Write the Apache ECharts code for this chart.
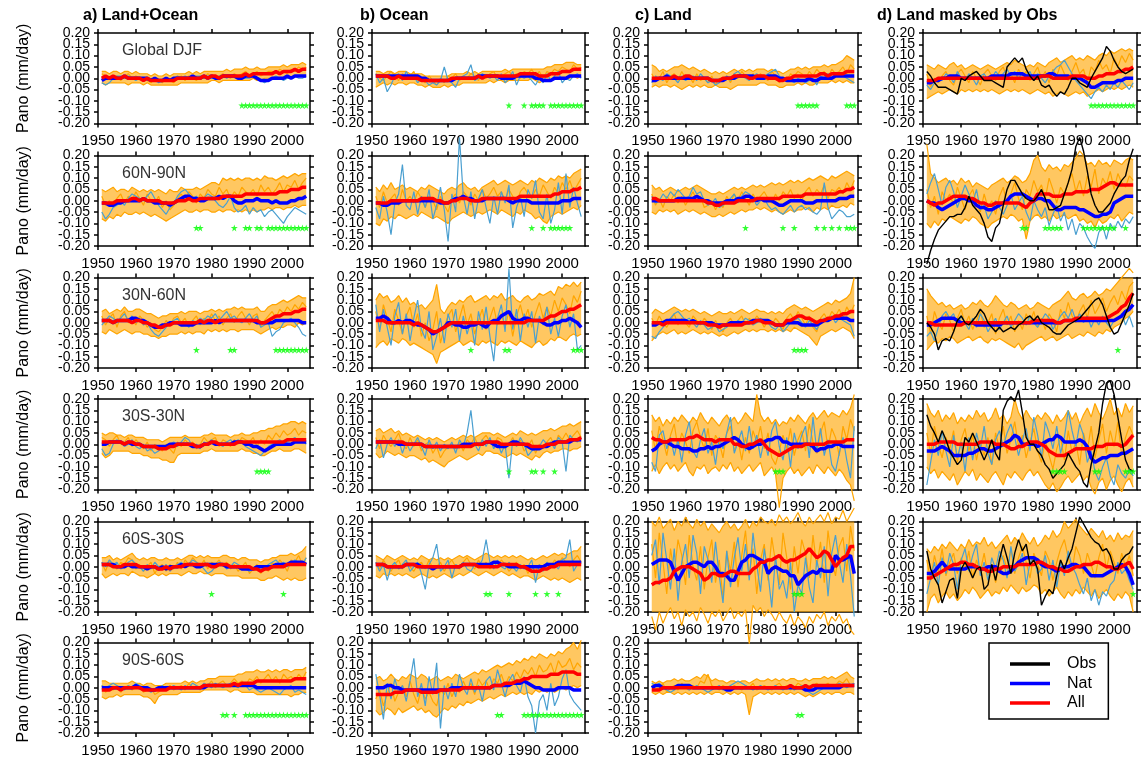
<!DOCTYPE html>
<html><head><meta charset="utf-8">
<script src="https://cdn.jsdelivr.net/npm/echarts@6/dist/echarts.min.js"></script>
<style>html,body{margin:0;padding:0;background:#fff}#c{width:1142px;height:764px}</style>
</head><body><div id="c"></div>
<script>
// Values in units of 0.01 mm/day, years 1951..2005
const YEAR_FIRST = 1951, YEAR_LAST = 2005;
const X_TICKS = [1950, 1960, 1970, 1980, 1990, 2000];
const Y_TICKS = [-0.2, -0.15, -0.1, -0.05, 0, 0.05, 0.1, 0.15, 0.2];
const Y_LABELS_A = [-0.2, -0.1, 0, 0.1, 0.2];
const Y_LABELS_B = [-0.15, -0.05, 0.05, 0.15];
const COL_TITLES = ['a) Land+Ocean', 'b) Ocean', 'c) Land', 'd) Land masked by Obs'];
const REGIONS = ['Global DJF', '60N-90N', '30N-60N', '30S-30N', '60S-30S', '90S-60S'];
const STAR_Y = -0.12;

// ---- a) Land+Ocean ----
const a1_all=[0,1,0,1,0, 0,1,0,0,0, 0,-1,0,-1,-1, -1,-1,-1,-1,-1, 0,0,0,0,0, 0,0,1,0,1, 1,0,1,1,1, 1,1,1,2,1, 2,2,2,2,2, 2,3,2,3,3, 3,4,3,4,4];
const a1_nat=[-1,0,0,0,0, 0,1,0,0,0, 0,0,0,-1,0, -1,-1,0,-1,0, 0,0,0,0,1, 0,0,1,0,1, 0,0,1,1,1, 1,0,0,1,1, 1,0,-1,-1,-1, 0,0,0,0,1, 0,1,1,1,1];
const a1_hi=[3,3,2,3,3, 2,3,3,2,3, 2,2,2,1,2, 1,1,2,1,2, 2,2,2,3,2, 3,2,3,3,3, 3,3,3,4,3, 4,4,4,5,4, 4,5,4,4,5, 5,5,5,6,5, 6,6,6,7,6];
const a1_lo=[-2,-3,-2,-2,-2, -2,-2,-3,-2,-2, -2,-3,-2,-3,-3, -3,-3,-3,-3,-3, -3,-2,-2,-2,-2, -2,-2,-2,-2,-1, -1,-2,-1,-1,-1, -1,-1,-1,-1,-1, 0,-1,-1,0,0, 0,0,0,0,0, 0,1,1,1,1];
const a1_o1=[2,1,0,1,1, -1,1,2,0,1, 0,0,-1,-2,0, -1,-2,0,-1,-2, 0,1,-1,1,0, -1,1,0,2,1, 0,1,2,1,0, 2,1,2,3,1, 2,3,1,2,3, 3,2,4,3,2, 4,3,5,4,5];
const a1_b1=[-2,-3,-2,0,1, 1,0,1,0,-1, 0,0,-1,0,-1, -2,-1,0,-1,0, 1,0,1,0,0, 1,1,0,1,0, 0,1,1,0,1, 1,0,1,0,0, 1,0,-1,-2,-1, 0,1,0,-1,0, 0,1,0,0,1];
const a1_star=[1988,1989,1990,1991,1992,1993,1994,1995,1996,1997,1998,1999,2000,2001,2002,2003,2004,2005];

const a2_all=[-1,-1,-1,-1,0, 0,0,0,1,1, 0,1,0,0,0, 0,-1,-1,-1,-1, 0,0,0,1,0, 0,1,1,1,1, 1,1,2,2,2, 2,2,2,3,3, 3,3,3,3,3, 3,3,4,4,4, 5,5,5,6,6];
const a2_nat=[-1,-1,-2,-2,-1, -1,0,0,0,0, 0,1,0,0,-1, -1,-1,-1,-2,-1, 0,1,2,2,1, 1,0,0,1,1, 1,2,1,2,2, 0,-1,-1,0,0, 0,1,0,0,0, -1,0,-1,-1,-1, 0,0,1,1,2];
const a2_hi=[5,4,5,6,4, 5,5,4,6,5, 4,5,4,5,4, 5,4,3,5,4, 4,6,5,5,5, 6,5,6,7,8, 8,7,10,9,10, 9,10,9,10,10, 9,10,9,11,10, 10,9,10,11,10, 11,12,11,12,12];
const a2_lo=[-8,-9,-7,-8,-6, -7,-5,-6,-6,-5, -6,-5,-6,-7,-6, -7,-8,-9,-8,-7, -6,-5,-4,-5,-5, -4,-5,-4,-4,-5, -5,-4,-5,-4,-4, -5,-4,-5,-4,-5, -4,-5,-4,-4,-3, -4,-3,-3,-4,-3, -3,-2,-3,-2,-2];
const a2_o1=[2,-2,0,-3,1, 3,-1,2,0,4, 1,-2,3,0,-1, 2,-3,0,-4,-2, 1,3,0,4,2, -1,3,1,5,3, 2,6,3,5,1, 4,2,6,4,3, 5,2,7,4,6, 3,5,8,4,7, 6,9,5,8,10];
const a2_b1=[-5,-8,-6,-3,-2, 0,-2,1,3,2, 1,0,2,4,1, -2,-4,-6,-3,-1, 2,4,5,3,1, 2,0,1,3,2, 0,-2,-3,-1,2, -3,-5,-4,-2,-6, -3,-5,-4,-7,-5, -4,-6,-8,-10,-7, -5,-3,-4,-5,-6];
const a2_star=[1976,1977,1986,1989,1990,1992,1993,1995,1996,1997,1998,1999,2000,2001,2002,2003,2004,2005];

const a3_all=[1,1,1,0,1, 1,1,1,0,1, 1,0,0,-1,-1, -2,-2,-1,-1,0, 0,0,0,0,0, 0,1,0,1,1, 0,1,1,1,1, 1,1,1,1,1, 1,1,0,0,1, 2,3,3,4,4, 4,5,5,6,6];
const a3_nat=[1,1,1,0,1, 1,1,1,2,2, 1,1,0,-1,-2, -2,-1,-1,0,0, 0,-1,-1,-1,-1, 0,0,0,0,0, 1,0,1,1,1, 1,1,1,1,1, 1,0,0,0,0, 0,1,1,1,1, 1,1,1,0,0];
const a3_hi=[5,6,4,5,6, 5,7,5,5,6, 6,5,4,4,3, 2,3,3,4,4, 4,5,4,5,5, 5,4,5,5,6, 5,6,5,6,6, 7,6,7,6,6, 6,7,5,5,7, 8,8,9,10,9, 10,11,12,11,11];
const a3_lo=[-4,-5,-3,-4,-5, -4,-3,-4,-5,-4, -4,-5,-5,-6,-6, -7,-6,-6,-5,-5, -5,-4,-5,-4,-5, -4,-4,-5,-3,-4, -3,-4,-3,-4,-3, -3,-4,-3,-3,-3, -3,-4,-5,-4,-3, -2,-3,-2,-2,-1, -1,-2,0,-1,0];
const a3_o1=[3,-1,2,4,-2, 3,5,0,2,-1, 3,1,-2,0,-3, -4,-2,1,-1,2, 3,0,2,-2,1, 3,-1,2,0,4, 1,3,-1,2,4, 0,3,5,2,-1, 3,4,-2,1,3, 5,2,6,4,7, 5,8,6,9,7];
const a3_b1=[-1,1,3,2,0, 2,4,1,3,0, 2,-1,0,-3,-5, -6,-4,-2,0,1, 2,-1,0,-2,1, 0,2,1,3,2, 4,1,3,5,2, 3,1,0,2,4, 1,3,-2,-1,0, -6,-4,-3,0,1, 2,0,-2,-5,-6];
const a3_star=[1976,1985,1986,1997,1998,1999,2000,2001,2002,2003,2004,2005];

const a4_all=[1,1,1,1,1, 1,0,1,1,0, 0,-1,-1,-1,-1, -2,-2,-2,-1,-1, 0,0,0,0,0, -1,-1,0,0,1, 1,0,0,0,0, 0,1,1,1,1, 1,1,1,1,1, 1,1,1,1,2, 2,2,2,2,2];
const a4_nat=[0,0,1,1,1, 1,0,1,0,0, 0,-1,-1,-1,-1, -1,-1,-1,0,0, 0,0,0,0,-1, -1,-1,0,0,1, 0,0,0,0,0, 1,1,1,0,0, -1,-1,-2,-3,-2, -1,0,0,0,0, 0,1,1,1,1];
const a4_hi=[5,4,5,5,4, 4,3,4,4,3, 3,3,2,2,2, 2,1,2,3,3, 3,3,4,3,3, 3,3,4,4,5, 4,4,4,4,3, 4,4,5,4,4, 5,5,6,6,7, 7,8,8,9,9, 10,10,9,10,9];
const a4_lo=[-4,-6,-5,-3,-3, -3,-3,-3,-4,-4, -4,-5,-5,-6,-6, -6,-7,-7,-8,-8, -5,-4,-4,-4,-4, -4,-4,-3,-3,-2, -3,-3,-3,-3,-3, -3,-3,-2,-3,-3, -4,-4,-5,-5,-4, -3,-3,-2,-3,-3, -3,-2,-2,-3,-4];
const a4_o1=[3,2,-1,2,4, 0,1,3,-1,2, 0,-2,1,-3,0, -1,-3,0,-2,-4, 1,-1,2,0,1, -2,0,3,1,2, 3,-1,2,1,-1, 2,0,3,2,1, 3,-1,2,0,4, 2,5,3,6,4, 5,7,4,6,5];
const a4_b1=[-2,-5,-4,0,2, 1,-1,0,2,-1, -2,0,-3,-2,-4, -3,-1,-2,0,1, -1,1,3,2,-1, 0,-2,1,0,2, 1,0,-1,1,2, 0,2,1,-1,-2, -3,-4,-5,-3,-1, 0,1,2,0,1, 2,3,1,2,0];
const a4_star=[1992,1993,1994,1995];

const a5_all=[1,1,1,0,0, 0,1,1,1,1, 0,0,0,0,0, -1,-1,0,-1,0, 0,0,1,1,1, 1,1,1,1,0, 0,1,1,1,0, 0,0,0,0,0, -1,-1,-2,-1,-1, 0,0,0,0,1, 1,1,1,1,1];
const a5_nat=[1,1,1,1,0, 0,0,1,0,0, 0,0,-1,0,0, -1,0,-1,0,0, 0,1,0,1,1, 0,0,1,1,1, 1,1,1,0,0, 0,0,-1,-1,-1, -1,0,0,0,0, 0,1,1,1,1, 2,2,2,2,1];
const a5_hi=[4,4,5,3,4, 3,4,5,6,4, 3,4,3,4,4, 3,3,4,3,3, 4,3,4,5,5, 4,5,4,5,4, 4,4,5,5,4, 4,3,4,4,3, 3,3,2,3,3, 4,4,5,5,5, 6,5,6,7,9];
const a5_lo=[-3,-5,-4,-3,-4, -3,-3,-4,-2,-3, -4,-4,-5,-4,-3, -4,-3,-4,-3,-3, -3,-4,-3,-2,-3, -3,-2,-3,-3,-4, -3,-3,-3,-4,-4, -4,-4,-5,-5,-5, -5,-5,-6,-6,-5, -5,-4,-5,-6,-5, -6,-5,-6,-6,-5];
const a5_o1=[2,-2,3,0,-1, 2,1,4,3,-1, 1,-2,0,2,-3, 0,1,-2,1,-1, 2,-1,3,1,4, 2,0,3,-1,2, 1,3,0,2,-1, 1,-2,0,2,-3, -1,1,-3,0,-2, 2,0,3,1,-2, 3,2,5,1,4];
const a5_b1=[2,0,3,1,2, -1,0,2,3,1, 0,-2,1,-1,2, 0,-1,1,-2,0, 1,2,0,1,3, 2,1,-1,-3,-2, 0,2,1,-1,0, 2,1,0,-1,-2, -1,0,-2,-1,1, 2,3,1,2,0, 1,3,2,1,4];
const a5_star=[1980,1999];

const a6_all=[-1,-1,-1,0,0, -1,0,0,0,0, 0,-1,-1,-1,-1, -1,-1,-1,0,0, 0,0,0,0,0, 0,0,1,1,1, 1,1,1,1,1, 2,1,2,2,2, 2,3,3,3,3, 3,3,3,3,3, 3,4,4,4,4];
const a6_nat=[0,0,0,0,0, 0,0,0,0,1, 0,0,0,-1,-1, 0,0,0,0,0, 0,0,0,0,0, 0,0,0,1,1, 1,1,1,1,1, 1,1,1,1,1, 1,0,0,0,0, 0,0,0,0,0, 0,0,0,0,0];
const a6_hi=[3,3,2,2,2, 2,2,2,3,2, 2,1,2,2,1, 1,1,2,2,2, 2,2,3,2,3, 2,3,3,4,4, 4,5,5,5,5, 5,6,6,7,7, 7,8,7,7,8, 7,8,7,8,8, 7,8,8,8,9];
const a6_lo=[-4,-5,-4,-4,-3, -4,-3,-3,-3,-3, -3,-4,-4,-5,-7, -4,-3,-3,-3,-3, -3,-2,-2,-2,-2, -2,-2,-1,-1,-1, -1,-1,-1,-1,-2, -1,-1,-2,-2,-2, -2,-3,-3,-3,-3, -3,-3,-3,-3,-3, -4,-3,-3,-2,-2];
const a6_o1=[1,-2,0,-1,1, -2,0,1,-1,0, 1,-2,-1,0,-3, -2,0,-1,1,-1, 0,1,-1,2,0, 1,-1,2,1,3, 0,2,3,1,2, 4,2,3,1,4, 3,5,2,4,6, 3,5,2,6,4, 5,3,6,4,7];
const a6_b1=[1,0,1,2,1, 0,-1,1,0,2, 1,0,-1,-2,-1, 0,1,-1,0,1, 0,-1,1,0,2, 1,0,2,1,0, 2,1,0,1,2, 1,0,2,1,-1, 0,-1,-2,-1,0, -1,-2,-3,-1,0, 1,-2,-1,-2,-3];
const a6_star=[1983,1984,1986,1989,1990,1991,1992,1993,1994,1995,1996,1997,1998,1999,2000,2001,2002,2003,2004,2005];

// ---- b) Ocean ----
const b1_all=[1,1,1,1,0, 0,1,0,0,0, 0,0,-1,-1,-1, -1,-1,-1,-1,-1, 0,0,0,0,0, 0,0,1,0,1, 1,1,1,1,1, 1,1,1,2,2, 2,2,2,1,1, 1,2,2,2,3, 3,3,4,4,4];
const b1_nat=[1,1,1,1,1, 1,1,1,1,1, 1,1,0,0,-1, -1,-1,-1,-1,-1, -1,0,0,0,0, 0,0,1,1,1, 1,1,1,0,0, 0,0,1,1,1, 1,1,0,0,-1, -1,-1,0,0,0, 0,1,1,1,1];
const b1_hi=[3,3,2,3,3, 2,3,3,3,2, 2,2,2,1,1, 1,1,1,1,1, 2,2,2,2,3, 2,3,2,3,3, 3,3,3,3,4, 3,4,4,4,4, 4,4,4,4,4, 5,5,6,6,6, 7,7,7,6,6];
const b1_lo=[-4,-3,-2,-3,-2, -3,-2,-2,-3,-2, -2,-3,-3,-4,-3, -4,-4,-4,-3,-4, -3,-3,-3,-2,-2, -2,-2,-2,-2,-2, -1,-2,-1,-1,-2, -1,-1,-1,-1,-1, -1,0,-1,-2,-1, -1,-1,0,0,0, 0,0,1,0,1];
const b1_o1=[2,0,-1,1,3, 1,-1,2,0,1, 3,-1,0,-2,1, -1,-3,0,-2,1, 0,2,-1,1,0, 2,1,-1,2,0, 2,3,0,1,2, 3,1,2,0,3, 2,4,1,3,0, 3,2,4,3,5, 4,3,6,4,5];
const b1_b1=[2,-2,0,-6,-3, 1,2,-1,3,0, 1,-2,0,-1,-3, -2,-3,-1,5,-1, -2,-4,0,1,2, 6,-1,0,2,1, 0,1,-1,2,-2, 0,3,-3,1,0, 1,-1,-3,0,-2, 2,-1,1,3,-2, 0,-1,1,2,0];
const b1_star=[1986,1990,1992,1993,1994,1995,1997,1998,1999,2000,2001,2002,2003,2004,2005];

const b2_all=[-1,-1,-1,-1,0, 0,0,0,0,0, 0,0,1,1,1, 1,0,0,-1,-1, 0,0,1,1,1, 0,0,0,1,1, 1,1,1,1,1, 1,1,1,2,2, 2,2,2,2,2, 2,2,3,3,4, 4,4,5,5,6];
const b2_nat=[-1,-1,-2,-2,-1, -1,-1,0,0,0, 0,0,0,0,0, 0,0,-1,-1,-1, 0,1,1,2,1, 1,0,0,0,1, 1,1,1,1,1, 0,-1,0,0,0, 0,-1,-1,-1,-1, -1,-1,-1,-1,0, 0,0,1,1,1];
const b2_hi=[6,4,7,5,8, 5,6,7,5,6, 5,4,6,5,7, 6,5,4,3,5, 6,5,7,8,6, 5,6,4,6,7, 8,9,7,8,9, 8,7,8,9,8, 7,9,8,10,9, 8,10,9,11,10, 11,10,12,13,14];
const b2_lo=[-10,-11,-8,-9,-7, -8,-6,-7,-8,-7, -6,-7,-5,-6,-7, -8,-7,-8,-9,-10, -8,-7,-6,-5,-6, -7,-6,-5,-6,-5, -4,-5,-6,-4,-5, -6,-7,-5,-6,-4, -5,-6,-8,-7,-9, -10,-7,-6,-5,-6, -5,-4,-3,-4,-2];
const b2_o1=[2,-3,4,-1,1, 3,-2,5,0,2, -1,4,1,-3,2, 0,-4,2,-2,-5, 1,3,-1,4,2, -2,3,0,5,1, 3,6,2,4,0, 5,2,-1,4,6, 3,1,5,2,7, 4,1,6,3,8, 5,9,4,7,10];
const b2_b1=[-3,-8,2,-5,-15, -1,3,16,-2,-4, 4,-6,2,-3,5, -8,-2,6,-4,-18, 3,-5,28,2,-6, 4,-8,1,5,-3, -10,2,-6,4,-1, 7,-12,-3,2,-7, 5,1,9,-5,-8, 3,-10,-4,8,-6, 12,-3,6,-1,-7];
const b2_star=[1992,1995,1997,1998,1999,2000,2001,2002];

const b3_all=[1,1,1,0,0, 0,0,0,0,0, -1,0,-1,-2,-3, -4,-4,-3,-2,-1, 0,0,0,0,0, 0,0,0,0,0, 0,0,0,0,0, 0,0,0,0,0, 1,1,1,1,1, 2,3,3,4,5, 5,6,6,7,8];
const b3_nat=[2,2,3,2,0, 0,1,0,1,1, 0,-1,-1,-2,-3, -5,-4,-3,-2,0, 0,-1,-1,-2,-2, -1,-1,0,-1,-2, 0,1,1,3,4, 5,2,1,1,2, 2,1,1,1,0, -1,-1,0,0,1, 1,2,1,0,-2];
const b3_hi=[10,13,11,12,9, 10,12,9,11,8, 9,7,8,6,8, 10,17,6,4,7, 9,8,10,9,11, 12,9,10,11,12, 10,12,11,13,10, 11,12,10,9,11, 12,10,11,13,12, 13,14,12,16,15, 17,16,18,16,18];
const b3_lo=[-11,-9,-8,-10,-7, -8,-9,-7,-8,-10, -9,-10,-11,-12,-13, -14,-18,-13,-12,-11, -10,-9,-8,-10,-9, -8,-9,-10,-8,-9, -8,-9,-10,-8,-9, -8,-9,-10,-8,-9, -10,-11,-9,-8,-10, -9,-7,-8,-6,-7, -8,-6,-5,-6,-5];
const b3_o1=[5,-3,8,2,-4, 6,1,-5,3,7, -2,4,-6,0,-8, -3,5,-9,-2,3, 6,-4,2,8,-1, 4,-5,1,6,-3, 2,7,-1,4,-2, 5,-6,3,8,1, 6,-2,4,9,2, 7,3,10,5,11, 8,4,12,9,14];
const b3_b1=[8,-4,6,-2,-10, 3,9,-5,4,-8, 2,10,-3,-7,5, -12,-6,2,-9,4, -2,6,-8,3,-5, 1,-10,5,-3,7, -6,-17,2,8,-4, 24,-3,6,-8,4, -2,5,-9,3,-1, 7,-5,2,-6,3, 8,-2,4,-12,-10];
const b3_star=[1976,1985,1986,2003,2004,2005];

const b4_all=[1,1,1,1,1, 1,1,1,0,0, 0,0,0,-1,-1, -1,-1,-1,-1,-1, -1,-1,-1,-1,-1, -1,0,0,0,1, 1,1,1,0,0, 0,0,0,0,0, 0,-1,-1,-1,-1, 0,0,0,1,1, 1,2,2,2,3];
const b4_nat=[1,1,1,1,1, 1,0,0,0,0, 0,0,0,-1,-1, -1,-1,-1,-1,-1, -1,-1,-1,0,0, 0,0,0,0,1, 1,0,-1,-1,-1, 0,1,1,0,0, -1,-2,-2,-2,-1, -1,0,1,1,1, 1,1,2,2,2];
const b4_hi=[6,7,5,6,7, 5,6,4,5,4, 3,4,3,2,3, 2,3,2,1,2, 3,2,3,4,3, 4,3,4,5,5, 5,4,5,4,3, 4,5,4,6,5, 4,5,4,5,6, 6,7,6,7,8, 8,9,8,9,10];
const b4_lo=[-4,-6,-5,-3,-4, -5,-4,-5,-6,-5, -5,-6,-7,-6,-8, -7,-8,-9,-10,-8, -7,-6,-5,-6,-7, -6,-5,-4,-5,-3, -3,-4,-4,-5,-6, -5,-4,-5,-4,-5, -6,-7,-5,-6,-4, -3,-4,-3,-3,-2, -2,-3,-2,-2,-1];
const b4_o1=[3,-2,4,1,-1, 2,5,0,-2,3, -1,2,-3,0,1, -4,-1,-6,-3,-1, 0,-2,1,-3,2, 0,3,-1,2,4, 1,-1,3,2,-2, 0,3,-1,2,-3, -1,2,-4,0,-2, 1,3,-1,4,2, 5,2,4,6,3];
const b4_b1=[-2,2,-6,0,3, -1,2,-4,1,-3, 0,3,-1,-5,2, -2,1,-3,0,-2, 1,-4,2,-1,5, 15,0,-3,2,-1, 3,-2,1,-4,0, -15,2,-1,3,0, -5,-3,-2,-1,2, 0,1,-2,3,1, -12,4,2,1,3];
const b4_star=[1986,1992,1993,1995,1998];

const b5_all=[1,1,1,0,0, 0,0,0,1,1, 1,0,0,0,0, 0,0,0,0,0, 0,0,0,1,1, 1,1,0,0,0, 0,0,0,1,1, 1,1,1,0,0, -1,-2,-2,-2,-1, -1,0,0,1,1, 1,1,1,1,1];
const b5_nat=[1,1,1,0,0, 0,0,0,1,1, 1,1,0,0,0, -1,0,0,0,0, 0,0,0,1,1, 1,1,1,1,1, 1,2,2,1,1, 0,0,0,0,0, 0,0,0,0,0, 1,1,1,2,2, 2,2,2,2,2];
const b5_hi=[5,4,3,5,4, 3,4,5,4,3, 4,3,5,4,3, 4,3,4,3,4, 3,4,5,4,5, 4,3,4,5,6, 5,4,5,4,5, 4,5,4,5,4, 3,4,3,4,5, 4,5,6,5,6, 5,6,7,7,9];
const b5_lo=[-4,-5,-3,-4,-3, -4,-3,-4,-3,-4, -5,-4,-3,-4,-5, -4,-5,-4,-3,-4, -5,-4,-3,-4,-3, -2,-3,-4,-3,-2, -3,-4,-3,-2,-3, -4,-3,-4,-5,-4, -4,-5,-6,-5,-4, -5,-6,-5,-6,-5, -6,-7,-6,-5,-6];
const b5_o1=[2,-1,3,0,-2, 1,3,-1,2,0, -2,1,2,-1,3, -1,0,2,-2,1, 3,0,-1,2,4, 1,-1,3,0,2, -1,2,0,3,1, -2,0,2,-1,1, -3,0,-2,1,-1, 2,0,3,1,4, 2,0,3,5,2];
const b5_b1=[2,-2,1,-6,0, 2,-1,1,3,-2, 0,2,-3,-10,1, 4,10,-2,0,3, -5,1,0,2,-1, -2,1,0,3,12, 2,-1,3,0,-1, 2,0,-2,1,-1, 0,3,-7,1,-2, 2,0,1,-1,3, 4,12,-2,1,2];
const b5_star=[1980,1981,1986,1993,1996,1999];

const b6_all=[-3,-3,-3,-3,-3, -2,-2,-2,-1,-1, -1,-1,-2,-2,-2, -2,-2,-1,-1,-1, -1,-1,-1,0,0, 0,0,0,0,0, 0,1,1,1,2, 2,2,3,3,4, 4,5,5,5,5, 5,6,6,6,7, 7,7,7,6,6];
const b6_nat=[0,0,0,1,1, 0,0,-1,-1,-1, -1,-1,-1,-1,-1, -1,-1,-1,-1,-1, 0,0,0,0,0, 0,0,0,0,0, 0,1,1,1,1, 1,2,2,2,3, 2,1,0,0,-1, -1,-1,-1,0,0, 0,0,-1,-1,-1];
const b6_hi=[4,5,3,4,6, 4,3,5,4,6, 5,4,6,5,3, 4,5,3,4,5, 4,6,5,4,5, 6,7,6,8,7, 8,9,10,9,10, 11,10,12,11,13, 12,14,13,15,14, 13,15,14,16,15, 17,18,20,17,21];
const b6_lo=[-10,-12,-11,-9,-10, -12,-9,-11,-10,-9, -8,-10,-9,-11,-10, -12,-13,-11,-9,-10, -8,-9,-7,-8,-6, -7,-6,-5,-6,-5, -4,-5,-4,-3,-4, -3,-2,-3,-2,-3, -2,-3,-1,-2,-1, -2,-1,-2,-1,0, -1,0,1,0,1];
const b6_o1=[-5,-1,-8,-3,2, -6,-2,1,-4,3, -3,-7,0,-5,-2, -6,-8,-1,-3,2, -4,0,-2,3,-1, 2,-3,4,1,3, -1,4,2,6,1, 5,3,7,4,8, 6,9,5,10,7, 8,11,6,12,9, 10,13,8,11,9];
const b6_b1=[6,-3,-14,2,-5, 4,-2,1,-6,3, 13,-4,2,-8,5, -3,11,-18,1,-5, 2,-4,6,0,-3, 4,-2,1,-6,3, 5,-1,8,2,-4, 3,6,1,-2,5, -4,-8,-20,-6,-3, -10,2,-8,-4,4, 8,-3,-6,-8,-10];
const b6_star=[1983,1984,1990,1991,1992,1993,1994,1995,1996,1997,1998,1999,2000,2001,2002,2003,2004,2005];

// ---- c) Land ----
const c1_all=[0,0,0,0,0, 0,1,0,0,1, 1,0,0,0,0, 0,-1,-1,-1,0, 0,0,1,1,1, 1,0,0,1,1, 1,0,0,0,-1, -1,0,0,1,1, 1,1,1,1,1, 2,2,1,2,2, 2,2,3,3,3];
const c1_nat=[-1,-1,0,0,1, 0,0,0,0,0, 0,0,0,0,0, 0,-1,-1,-1,-1, 0,0,0,1,1, 1,1,1,0,0, 0,1,1,1,0, 0,-1,-1,-1,-1, -1,-1,0,-1,-1, 0,0,0,0,1, 1,1,1,1,1];
const c1_hi=[6,5,3,4,3, 4,5,5,6,5, 4,5,4,3,4, 3,2,3,2,3, 2,3,4,3,4, 3,4,3,4,4, 4,3,4,3,3, 2,3,4,4,5, 4,5,4,5,5, 5,6,5,6,6, 7,8,10,9,8];
const c1_lo=[-4,-3,-4,-3,-3, -4,-3,-4,-5,-4, -3,-4,-3,-4,-3, -4,-4,-3,-4,-4, -4,-5,-4,-3,-3, -3,-3,-3,-3,-2, -2,-3,-3,-3,-4, -4,-3,-3,-3,-2, -3,-2,-3,-3,-2, -2,-2,-2,-1,-2, -1,-2,-1,-2,-2];
const c1_o1=[2,-1,0,3,-2, 1,2,-1,3,0, 1,-2,2,-1,0, -2,1,-3,0,-1, 1,-2,2,0,3, 1,-1,2,0,2, 0,-1,3,1,-2, 0,-1,2,1,3, 2,0,3,1,4, 2,3,0,4,2, 3,5,2,6,4];
const c1_b1=[-2,1,0,-1,2, 1,0,-2,1,-1, 0,1,-1,2,0, -2,-1,-3,-2,0, 1,-1,2,3,1, 0,-1,1,2,0, 1,2,3,4,1, -1,0,-1,-2,0, -1,-2,-1,0,-3, 1,0,2,0,1, 2,1,0,-1,-2];
const c1_star=[1990,1991,1992,1993,1994,1995,2003,2004,2005];

const c2_all=[1,1,0,0,0, 0,0,0,0,0, 0,0,0,0,0, -1,-1,-2,-2,-1, -1,-1,-1,0,0, 0,0,0,1,1, 1,1,1,1,1, 2,2,2,2,2, 2,3,3,3,3, 3,3,3,3,3, 4,4,5,5,6];
const c2_nat=[0,0,0,0,0, 0,0,1,1,1, 1,1,2,1,0, 0,-1,-1,-1,-1, 0,0,0,1,1, 2,2,1,0,1, 0,0,0,-1,-2, -2,-1,0,0,0, 0,-1,-1,-1,0, 0,0,0,0,0, 1,1,1,2,2];
const c2_hi=[7,5,6,4,5, 6,5,4,5,6, 5,6,7,6,5, 4,3,3,4,3, 4,5,6,5,6, 5,6,7,6,7, 6,7,8,7,8, 7,8,9,8,9, 8,9,10,9,10, 11,10,9,11,10, 11,12,13,12,11];
const c2_lo=[-5,-6,-4,-5,-4, -5,-4,-6,-5,-4, -5,-4,-5,-6,-5, -6,-7,-7,-6,-7, -6,-5,-6,-5,-4, -5,-4,-4,-3,-4, -3,-4,-5,-4,-5, -6,-5,-4,-5,-4, -4,-3,-4,-5,-3, -4,-3,-4,-2,-3, -3,-2,-3,-1,-2];
const c2_o1=[3,-2,1,-3,2, 0,3,-1,2,-2, 1,4,0,2,-3, -2,0,-4,-1,-3, 2,-1,3,0,4, 1,-2,3,0,2, 4,1,-1,3,0, 4,2,5,1,3, 0,4,6,2,5, 3,7,1,5,4, 6,3,8,5,9];
const c2_b1=[2,-1,0,3,1, 4,2,5,3,1, 2,6,3,4,0, -2,-1,1,-3,-2, 0,1,3,-1,2, 4,3,1,-2,0, 1,-2,-4,-3,-5, -6,-4,-2,-5,-3, -2,-4,-3,-5,-6, -4,8,-3,-8,-6, -4,-5,-7,-7,-6];
const c2_star=[1976,1986,1989,1995,1997,1999,2001,2003,2004,2005];

const c3_all=[0,0,0,-1,0, 0,0,0,0,0, 0,0,0,0,0, -1,-1,-1,-2,-1, -1,-1,-1,-1,-1, 0,0,0,1,1, 0,0,0,-1,-1, -1,1,1,2,3, 3,2,2,1,0, 1,1,2,2,3, 3,4,4,5,5];
const c3_nat=[-1,-1,0,0,1, 1,1,1,1,1, 0,1,0,0,0, 0,0,-1,-1,-1, -1,0,0,0,0, 0,0,1,1,1, 1,1,0,-1,-1, -1,0,0,0,0, -1,-1,-1,-1,-1, 0,1,1,2,2, 2,2,2,1,1];
const c3_hi=[4,6,5,4,5, 6,7,6,5,6, 5,6,5,4,5, 4,3,4,5,4, 4,5,4,5,6, 5,4,5,6,5, 5,4,5,4,5, 4,6,7,8,7, 6,7,6,5,6, 7,8,9,8,10, 9,10,11,13,20];
const c3_lo=[-8,-6,-5,-4,-5, -4,-3,-5,-4,-5, -4,-3,-4,-5,-4, -5,-4,-5,-6,-5, -6,-5,-4,-5,-4, -3,-4,-3,-4,-3, -3,-4,-3,-4,-3, -4,-3,-4,-2,-3, -4,-5,-6,-8,-10, -6,-5,-4,-3,-4, -3,-2,-3,-4,-7];
const c3_o1=[2,-1,3,0,-2, 1,4,-1,2,0, -2,3,1,-1,2, 0,-3,1,-2,-4, 0,2,-1,1,3, -1,2,0,3,1, -2,1,-1,2,0, -3,2,4,1,5, 2,-1,3,-2,-4, 2,4,1,5,3, 6,2,7,4,8];
const c3_b1=[-6,-7,-4,-2,0, 2,4,5,3,1, 2,0,-2,1,-1, -3,-2,-1,-4,-3, -2,0,-1,1,0, 2,1,-1,0,2, 1,0,-2,-3,-1, -4,-2,0,1,2, 0,-2,1,-1,-3, 0,2,1,3,0, 2,1,0,-1,-6];
const c3_star=[1989,1990,1991,1992];

const c4_all=[3,2,2,1,1, 2,2,2,2,2, 3,3,4,3,2, 2,2,1,2,2, 2,2,0,0,-1, -1,0,0,1,2, 0,-2,-3,-4,-5, -4,-3,-2,-1,-1, -1,0,0,0,0, 0,0,1,1,1, 1,1,2,2,2];
const c4_nat=[-3,-2,0,1,1, 0,-1,-1,-2,-2, -2,-3,-3,-2,-2, -1,-2,-1,-1,0, 1,2,3,2,0, -1,-2,-1,0,0, 1,2,2,3,3, 1,1,0,0,0, 0,0,0,-1,-3, -2,-2,-1,-1,0, 0,-1,-1,-1,-1];
const c4_hi=[13,10,12,8,11, 9,12,10,13,11, 9,12,10,14,11, 9,12,10,8,11, 13,10,12,9,11, 14,12,10,22,13, 10,12,9,11,8, 10,9,12,10,13, 11,9,12,14,11, 13,15,12,14,13, 12,15,13,16,22];
const c4_lo=[-12,-9,-13,-10,-8, -11,-9,-12,-10,-8, -12,-14,-10,-11,-9, -13,-11,-10,-12,-9, -11,-8,-12,-10,-13, -11,-9,-12,-10,-8, -14,-12,-10,-13,-28, -15,-12,-10,-13,-11, -14,-12,-10,-13,-9, -11,-13,-10,-12,-14, -11,-13,-16,-18,-25];
const c4_o1=[6,-3,8,2,-5, 4,9,-2,5,1, -4,6,10,3,-2, 7,-5,4,1,-6, 5,8,-3,2,-7, 3,-4,6,1,8, -2,5,-6,-9,-3, 4,-2,7,-5,2, 6,-3,9,1,-4, 5,10,-2,7,3, -5,8,2,11,6];
const c4_b1=[-8,-12,4,6,-2, 3,-5,2,-8,4, 10,-3,-6,2,7, -4,1,-9,3,-2, 5,12,-4,1,6, -3,8,-2,4,-6, 2,-5,6,10,-1, -7,3,-10,5,-2, 4,8,-6,12,-3, 7,-5,2,-9,-12, -4,3,-7,-15,8];
const c4_star=[1984,1985,1986];

const c5_all=[-8,-7,-7,-6,-6, -5,-2,-1,0,0, 0,-1,-2,-3,-6, -5,-3,-3,-4,-4, -3,-2,-2,-3,-3, -3,-3,-1,0,2, 2,3,3,4,5, 3,2,3,3,4, 5,6,8,6,4, 5,7,6,3,0, 2,4,5,9,9];
const c5_nat=[1,2,3,3,3, 2,-2,-6,-3,0, 1,2,2,1,0, 2,2,0,-3,-3, -4,-6,-6,-2,2, 3,5,5,4,3, 2,-3,-1,0,-1, -2,-2,-4,-4,-8, -6,-4,-3,-2,-3, -1,-2,-2,-2,5, 3,3,4,5,-3];
const c5_hi=[20,18,22,17,19, 21,16,20,18,22, 19,17,21,18,20, 16,19,17,15,18, 20,17,19,16,18, 21,17,20,18,22, 20,19,21,18,23, 20,22,19,21,24, 20,18,22,19,21, 23,20,24,19,22, 21,25,20,23,26];
const c5_lo=[-22,-28,-20,-25,-21, -18,-23,-20,-26,-19, -22,-20,-24,-18,-21, -25,-20,-22,-19,-24, -21,-18,-23,-20,-22, -19,-34,-17,-20,-18, -22,-19,-21,-24,-20, -23,-25,-21,-26,-22, -24,-27,-22,-25,-21, -23,-20,-26,-22,-24, -21,-25,-23,-28,-30];
const c5_o1=[10,-5,15,2,-12, 8,-3,12,5,-8, 14,0,-6,9,-10, 4,12,-7,3,-14, 7,-2,11,-9,5, 16,-4,8,-12,3, 10,-6,13,2,-8, 15,4,-10,9,-3, 12,6,-5,14,0, 11,-7,16,3,-4, 9,13,-2,18,7];
const c5_b1=[5,12,-8,15,3, -10,8,-15,2,10, -5,14,6,-12,9, 3,-7,11,-4,-16, 7,-9,4,13,-2, 10,-6,15,1,-11, 8,-3,-18,5,-10, -6,-14,2,-20,-8, -12,4,-9,-16,3, -5,9,-13,6,14, 2,-7,10,-4,-22];
const c5_star=[1989,1990,1991];

const c6_all=[-1,-1,-1,0,0, 0,0,0,0,0, 0,0,0,0,0, 0,0,0,0,0, 0,0,0,0,0, 0,0,0,0,0, 0,0,0,0,0, 0,0,1,0,0, 0,1,0,1,1, 1,1,1,1,1, 1,1,1,1,1];
const c6_nat=[0,1,1,0,0, 0,0,1,1,1, 1,0,0,0,0, 0,0,0,0,0, -1,-1,0,0,0, 0,0,0,0,0, 0,0,0,0,0, 0,0,0,0,0, 0,-1,-1,-1,0, 0,0,0,0,0, 0,1,1,1,1];
const c6_hi=[3,2,3,2,3, 3,4,3,4,3, 3,4,5,4,6, 5,3,4,3,3, 2,3,3,2,3, 3,2,3,4,3, 3,4,3,4,3, 4,3,4,4,3, 3,4,3,4,4, 4,5,4,5,4, 5,6,7,5,4];
const c6_lo=[-2,-3,-2,-3,-2, -2,-3,-2,-3,-2, -3,-2,-3,-2,-3, -2,-3,-2,-2,-3, -2,-3,-2,-3,-2, -3,-12,-4,-3,-2, -3,-2,-3,-2,-3, -2,-3,-2,-3,-2, -3,-4,-3,-4,-3, -2,-3,-2,-3,-2, -2,-3,-2,-2,-3];
const c6_o1=[1,-1,0,2,-2, 0,1,-1,2,0, -1,1,0,3,2, 6,1,0,-1,1, 0,-1,1,0,-1, 1,0,2,-1,0, 1,0,-1,1,2, 0,1,-1,0,2, 1,-1,0,1,2, 0,1,2,0,1, 3,2,4,1,2];
const c6_b1=[2,1,2,0,-1, -2,-1,0,1,0, -1,0,1,0,-1, -2,-1,0,1,-1, 0,1,2,3,2, 1,0,-1,0,1, 0,-1,0,1,0, -1,0,1,-1,0, 1,-1,-2,-3,-2, -1,0,1,0,1, 2,1,0,1,2];
const c6_star=[1990,1991];

// ---- d) Land masked by Obs ----
const d1_all=[-1,-1,-1,0,0, 0,0,0,0,0, 0,0,0,0,0, 0,0,0,0,0, 0,0,0,0,0, 0,0,0,0,0, 1,1,1,0,0, 0,0,0,1,1, 1,1,0,0,0, 1,1,2,2,2, 3,3,4,4,5];
const d1_nat=[-2,-2,-1,-1,0, 0,1,1,1,0, 0,0,0,0,0, 0,0,1,1,1, 1,1,2,2,2, 2,1,1,1,1, 1,1,2,2,1, 1,1,1,0,0, 0,-1,-2,-4,-4, -3,-2,-2,-2,-2, -1,-1,0,0,0];
const d1_hi=[6,5,4,6,5, 4,6,7,5,6, 4,5,6,5,4, 5,6,5,4,5, 6,7,6,8,7, 6,5,6,5,7, 6,5,7,8,9, 7,8,9,10,8, 9,8,10,9,8, 10,11,10,12,11, 12,13,12,13,12];
const d1_lo=[-9,-8,-7,-6,-7, -6,-5,-6,-7,-5, -6,-5,-6,-5,-6, -5,-6,-5,-6,-7, -6,-5,-6,-5,-6, -5,-6,-7,-6,-5, -6,-7,-6,-8,-7, -6,-7,-8,-7,-6, -7,-6,-8,-7,-6, -5,-6,-5,-4,-5, -4,-5,-4,-3,-4];
const d1_o1=[2,-4,0,-2,1, 3,-1,-3,2,4, 1,-2,3,0,-3, 2,4,1,-1,3, 5,0,2,-2,4, 1,3,-1,2,5, 0,3,-2,4,1, 6,2,-1,3,7, 2,4,-2,5,3, 8,4,6,2,9, 5,10,7,11,8];
const d1_b1=[-3,-5,-2,0,-1, 2,1,-2,3,0, -1,2,0,-3,1, 2,-1,0,3,1, 2,4,1,3,0, 2,1,3,-1,2, 0,-2,1,3,5, 6,8,5,2,-1, -3,-5,-7,-9,-6, -4,-6,-3,-5,-2, -4,-1,-3,-5,-2];
const d1_obs=[3,1,-2,-4,-4, -4,-5,-6,-7,0, -1,1,2,3,1, -1,-1,-1,-2,-3, -4,5,7,9,7, 9,4,1,-1,1, -3,-4,-3,-6,-8, -6,-7,-4,0,0, -2,-3,-4,0,3, 6,9,14,12,8, 5,3,2,3,4];
const d1_star=[1994,1995,1996,1997,1998,1999,2000,2001,2002,2003,2004,2005];

const d2_all=[0,-1,-2,-1,-1, 0,1,2,2,2, 2,1,1,0,-1, -1,-2,-2,-1,-1, -1,-1,-1,-1,-1, -2,-3,-1,0,3, 3,3,3,2,2, 2,3,3,3,4, 4,4,4,5,5, 5,6,7,8,8, 7,7,7,7,7];
const d2_nat=[0,-1,-1,-3,-4, -3,-2,-1,0,1, 1,0,0,-2,-3, -3,-4,-4,-3,-2, -1,0,2,3,3, 3,2,1,0,1, 1,0,0,-2,-4, -4,-3,-3,-3,-3, -4,-4,-5,-6,-7, -7,-6,-6,-5,-1, 0,1,2,2,2];
const d2_hi=[25,12,10,8,9, 10,8,9,7,10, 8,9,6,8,7, 6,5,7,8,9, 10,8,9,11,10, 8,9,12,18,20, 15,13,16,14,15, 13,16,15,17,19, 22,20,16,17,15, 18,16,17,15,18, 17,16,18,19,18];
const d2_lo=[-10,-12,-9,-11,-8, -9,-7,-8,-9,-10, -8,-9,-7,-8,-10, -11,-12,-10,-9,-8, -7,-8,-6,-7,-9, -8,-17,-9,-7,-6, -8,-7,-9,-6,-8, -7,-6,-8,-7,-6, -9,-8,-10,-9,-12, -8,-10,-9,-7,-8, -6,-9,-7,-5,-6];
const d2_o1=[5,-3,2,-6,4, 0,3,-2,6,1, -4,2,5,-1,-5, 3,-3,0,-6,2, 6,-2,3,8,1, -4,5,2,9,4, 7,1,10,5,-1, 6,3,8,12,4, 9,2,11,6,14, 3,10,7,13,5, 12,8,6,11,9];
const d2_b1=[3,8,12,5,-2, 6,9,4,-3,2, 7,3,-1,5,-4, -2,-8,-5,0,-3, -6,-2,3,-4,-1, 2,-5,-9,0,-4, -7,-3,-11,-6,-2, -9,-5,-13,-8,-15, -10,-12,-16,-19,-21, -14,-11,-17,-10,-13, -9,-12,-8,-10,-7];
const d2_obs=[-28,-22,-17,-13,-11, -9,-7,-7,-6,-6, -3,2,-2,-4,-6, -10,-16,-18,-12,-10, -2,5,9,9,6, 3,1,0,0,2, 5,1,-4,-4,-3, -2,3,8,14,24, 28,22,13,3,-2, -5,-5,-3,-1,3, 6,9,11,18,23];
const d2_star=[1976,1977,1982,1983,1984,1985,1986,1992,1993,1994,1995,1996,1997,1998,1999,2000,2003];

const d3_all=[0,0,-1,-1,-1, -1,-1,-1,-1,-1, 0,0,0,0,0, 0,0,0,0,0, 0,0,0,0,0, 0,0,0,1,1, 1,1,1,1,0, 0,1,1,1,2, 2,2,2,2,2, 2,2,2,3,4, 5,7,8,11,13];
const d3_nat=[-1,-1,0,1,2, 2,2,2,1,0, 0,0,0,-1,-1, -1,-1,-1,-1,-1, 0,0,0,0,0, 0,0,0,0,0, 0,0,0,0,0, 0,1,1,1,1, 1,1,1,1,1, 1,1,1,1,1, 2,3,5,6,8];
const d3_hi=[15,12,10,8,9, 7,8,6,7,8, 6,7,9,8,10, 8,7,9,12,10, 8,7,9,8,6, 7,8,6,7,9, 8,7,6,8,9, 10,12,14,11,10, 12,13,11,12,14, 12,13,15,14,16, 18,20,22,24,22];
const d3_lo=[-12,-10,-8,-9,-7, -8,-6,-7,-9,-8, -7,-6,-8,-7,-6, -8,-9,-7,-8,-7, -8,-9,-10,-11,-9, -12,-10,-9,-8,-7, -6,-8,-7,-6,-8, -7,-6,-5,-7,-6, -5,-6,-4,-5,-6, -4,-5,-3,-4,-2, -1,0,2,3,5];
const d3_o1=[3,-5,5,0,-3, 4,1,-4,2,6, -1,3,-3,1,5, -2,0,4,-5,2, 6,-1,3,-4,1, -3,4,0,5,-2, 2,-3,4,1,-4, 6,2,9,3,0, 5,8,2,10,4, 7,11,5,9,12, 8,14,10,16,18];
const d3_b1=[-6,-4,-8,-2,3, 5,2,4,-1,3, 0,-3,2,-2,4, 1,-4,-1,2,-3, 0,3,-2,1,4, 2,-1,3,0,-2, 1,4,2,-3,0, 3,5,2,6,1, 4,0,3,-2,2, -1,3,0,-2,1, 2,4,-1,3,-2];
const d3_obs=[0,-2,-5,-12,-8, -7,-8,-4,1,3, 0,-1,1,3,6, 4,0,-2,-4,-2, -4,-3,-2,-3,-1, 0,2,3,1,3, 0,-1,-2,-4,-5, -5,-3,-1,0,1, 2,4,6,8,10, 11,8,3,-2,-5, -4,0,4,8,13];
const d3_star=[2001];

const d4_all=[0,0,0,1,1, 1,1,1,0,0, 0,0,0,0,1, 1,1,1,0,0, 0,-1,-2,-2,-1, -1,0,1,1,1, 0,-1,-3,-4,-5, -5,-5,-4,-3,-2, -2,-2,-2,-2,-1, -1,-1,0,0,0, 0,-1,0,2,4];
const d4_nat=[-3,-3,-3,-2,-1, -2,-3,-5,-5,-5, -5,-4,-4,-3,-2, -2,-3,-3,-2,-1, 0,1,2,4,3, 0,0,0,0,-1, 0,1,2,2,4, 3,1,1,1,1, 2,1,-1,-6,-8, -7,-6,-6,-5,-5, -5,-4,-4,-3,-2];
const d4_hi=[18,14,12,15,10, 13,11,14,9,12, 10,13,11,15,12, 14,10,12,16,11, 13,9,12,20,14, 11,15,12,10,13, 11,14,12,9,13, 10,12,15,11,14, 9,13,16,12,18, 14,11,15,20,13, 16,12,18,14,17];
const d4_lo=[-10,-13,-11,-15,-12, -14,-16,-13,-18,-15, -12,-14,-11,-16,-13, -15,-17,-14,-12,-15, -18,-13,-15,-12,-14, -16,-13,-11,-14,-12, -15,-18,-20,-17,-21, -19,-16,-14,-17,-15, -13,-16,-14,-19,-22, -17,-15,-20,-16,-14, -18,-21,-17,-15,-19];
const d4_o1=[5,-4,8,0,-6, 3,-2,6,-8,2, 7,-3,4,-7,1, -5,3,-9,5,-2, 8,-4,2,10,-1, 4,-6,1,7,-3, -8,2,-5,-11,-2, 3,-7,6,-4,1, -9,5,-3,8,-6, 2,9,-4,6,-1, 10,-5,3,8,4];
const d4_b1=[-18,-8,2,-5,6, -3,-10,4,-6,1, -12,3,-7,5,-2, 8,-4,-9,2,6, -1,5,9,3,-5, 2,7,-3,12,4, -6,10,5,-2,8, -4,3,15,6,-1, 9,4,-8,-3,-12, -16,-10,-6,-14,-18, -9,-13,-15,-11,-14];
const d4_obs=[13,8,5,1,6, 2,-3,-6,-9,-7, 3,1,5,1,-3, -7,-3,2,-4,-7, 15,19,21,19,24, 14,3,0,0,-3, -5,-9,-11,-15,-13, -11,-9,-4,-7,-10, -12,-17,-19,-9,-2, 5,18,27,28,22, 12,2,-7,-11,-12];
const d4_star=[1984,1985,1986,1987,1995,1996,2003,2004,2005];

const d5_all=[-5,-5,-4,-3,-2, -1,0,1,1,2, 2,1,1,0,-1, -1,-2,-2,-1,-1, 0,0,0,0,1, 1,1,1,1,2, 2,1,0,0,-1, -1,-2,-2,-1,0, 0,1,1,1,2, 2,1,0,0,-1, -1,0,1,2,-1];
const d5_nat=[-3,-3,-2,0,2, 0,-1,-1,-1,-1, -1,0,0,0,-1, -1,0,0,0,-2, -3,-3,-2,0,2, 3,4,4,4,3, 1,0,0,-1,-2, -1,0,0,1,1, 0,0,-2,-4,-4, -4,-4,-3,-2,-1, 0,1,0,-3,-8];
const d5_hi=[8,6,9,7,10, 8,11,9,7,10, 8,12,9,11,10, 13,9,11,8,10, 12,14,10,13,11, 15,12,10,13,9, 11,14,12,16,13, 15,20,17,19,21, 18,16,14,17,15, 13,16,12,14,11, 15,12,14,13,16];
const d5_lo=[-20,-14,-12,-16,-13, -11,-14,-12,-15,-13, -10,-12,-9,-11,-14, -12,-10,-13,-11,-12, -9,-11,-8,-10,-12, -9,-11,-10,-8,-9, -12,-10,-13,-11,-9, -12,-14,-11,-13,-10, -12,-9,-11,-13,-10, -14,-12,-10,-13,-15, -12,-14,-11,-13,-20];
const d5_o1=[3,-6,5,-2,8, -4,2,6,-3,4, -1,7,-5,3,-2, 6,-4,1,-7,2, 5,-1,8,-3,4, 9,2,-5,6,1, -4,7,3,-6,2, 8,12,4,-2,9, 5,-3,6,1,-5, 4,10,-1,7,2, -3,6,0,5,-4];
const d5_b1=[-12,-5,2,-8,4, -3,6,1,-10,3, 8,-2,5,10,-4, 2,-6,4,-1,7, 3,-5,9,-2,1, 6,-8,2,4,-3, -1,5,-6,3,-9, 2,-4,7,0,-3, -8,-12,-5,-15,-10, -17,-11,-13,-8,-6, 2,-3,-1,-6,-10];
const d5_obs=[7,-1,-5,-8,-16, -11,-6,-5,-14,-1, 2,-1,-5,-1,0, -10,-8,1,-6,3, 10,4,-3,6,12, 7,10,1,3,-1, -17,-13,-10,-12,-4, 3,-1,4,8,15, 22,19,16,13,11, 10,7,8,5,-1, -1,3,5,6,9];
const d5_star=[2005];

const PANELS = [
 {col:0,row:0,all:a1_all,nat:a1_nat,hi:a1_hi,lo:a1_lo,o1:a1_o1,b1:a1_b1,stars:a1_star},
 {col:0,row:1,all:a2_all,nat:a2_nat,hi:a2_hi,lo:a2_lo,o1:a2_o1,b1:a2_b1,stars:a2_star},
 {col:0,row:2,all:a3_all,nat:a3_nat,hi:a3_hi,lo:a3_lo,o1:a3_o1,b1:a3_b1,stars:a3_star},
 {col:0,row:3,all:a4_all,nat:a4_nat,hi:a4_hi,lo:a4_lo,o1:a4_o1,b1:a4_b1,stars:a4_star},
 {col:0,row:4,all:a5_all,nat:a5_nat,hi:a5_hi,lo:a5_lo,o1:a5_o1,b1:a5_b1,stars:a5_star},
 {col:0,row:5,all:a6_all,nat:a6_nat,hi:a6_hi,lo:a6_lo,o1:a6_o1,b1:a6_b1,stars:a6_star},
 {col:1,row:0,all:b1_all,nat:b1_nat,hi:b1_hi,lo:b1_lo,o1:b1_o1,b1:b1_b1,stars:b1_star},
 {col:1,row:1,all:b2_all,nat:b2_nat,hi:b2_hi,lo:b2_lo,o1:b2_o1,b1:b2_b1,stars:b2_star},
 {col:1,row:2,all:b3_all,nat:b3_nat,hi:b3_hi,lo:b3_lo,o1:b3_o1,b1:b3_b1,stars:b3_star},
 {col:1,row:3,all:b4_all,nat:b4_nat,hi:b4_hi,lo:b4_lo,o1:b4_o1,b1:b4_b1,stars:b4_star},
 {col:1,row:4,all:b5_all,nat:b5_nat,hi:b5_hi,lo:b5_lo,o1:b5_o1,b1:b5_b1,stars:b5_star},
 {col:1,row:5,all:b6_all,nat:b6_nat,hi:b6_hi,lo:b6_lo,o1:b6_o1,b1:b6_b1,stars:b6_star},
 {col:2,row:0,all:c1_all,nat:c1_nat,hi:c1_hi,lo:c1_lo,o1:c1_o1,b1:c1_b1,stars:c1_star},
 {col:2,row:1,all:c2_all,nat:c2_nat,hi:c2_hi,lo:c2_lo,o1:c2_o1,b1:c2_b1,stars:c2_star},
 {col:2,row:2,all:c3_all,nat:c3_nat,hi:c3_hi,lo:c3_lo,o1:c3_o1,b1:c3_b1,stars:c3_star},
 {col:2,row:3,all:c4_all,nat:c4_nat,hi:c4_hi,lo:c4_lo,o1:c4_o1,b1:c4_b1,stars:c4_star},
 {col:2,row:4,all:c5_all,nat:c5_nat,hi:c5_hi,lo:c5_lo,o1:c5_o1,b1:c5_b1,stars:c5_star},
 {col:2,row:5,all:c6_all,nat:c6_nat,hi:c6_hi,lo:c6_lo,o1:c6_o1,b1:c6_b1,stars:c6_star},
 {col:3,row:0,all:d1_all,nat:d1_nat,hi:d1_hi,lo:d1_lo,o1:d1_o1,b1:d1_b1,obs:d1_obs,stars:d1_star},
 {col:3,row:1,all:d2_all,nat:d2_nat,hi:d2_hi,lo:d2_lo,o1:d2_o1,b1:d2_b1,obs:d2_obs,stars:d2_star},
 {col:3,row:2,all:d3_all,nat:d3_nat,hi:d3_hi,lo:d3_lo,o1:d3_o1,b1:d3_b1,obs:d3_obs,stars:d3_star},
 {col:3,row:3,all:d4_all,nat:d4_nat,hi:d4_hi,lo:d4_lo,o1:d4_o1,b1:d4_b1,obs:d4_obs,stars:d4_star},
 {col:3,row:4,all:d5_all,nat:d5_nat,hi:d5_hi,lo:d5_lo,o1:d5_o1,b1:d5_b1,obs:d5_obs,stars:d5_star}
];

// ---- layout / style ----
const U = 0.01;
const YEARS = [];
for (let y = YEAR_FIRST; y <= YEAR_LAST; y++) YEARS.push(y);
const FONT = '"Liberation Sans", Arial, Helvetica, sans-serif';
const COL_LEFT = [98, 372, 648, 923], COL_W = [212, 213, 210, 214];
const ROW_TOP = [33, 155.5, 277.5, 399, 521.5, 642.5], ROW_H = 90.5;
const TITLE_X = [83, 360, 635, 877];
const ORANGE = '#FFA500', LBLUE = '#4A9FD0';
const STAR = 'path://M50,0 L61,35 L98,35 L68,57 L79,91 L50,70 L21,91 L32,57 L2,35 L39,35 Z';

const grids = [], xAxes = [], yAxes = [], series = [];
const axisLine = {show: true, onZero: false, lineStyle: {color: '#000', width: 1.5}};
const fmtY = v => (Math.abs(v) < 1e-9 ? '0.00' : v.toFixed(2));
const labelStyle = {formatter: fmtY, margin: 8, fontSize: 14, color: '#000', fontFamily: FONT, hideOverlap: false};

PANELS.forEach((p, i) => {
  ['all','nat','hi','lo','o1','b1','obs'].forEach(k => {
    if (p[k] && p[k].length !== YEARS.length) throw new Error('panel ' + i + ' ' + k + ' length ' + p[k].length);
  });
  grids.push({left: COL_LEFT[p.col], top: ROW_TOP[p.row], width: COL_W[p.col], height: ROW_H});
  const xBase = {gridIndex: i, type: 'value', min: 1950, max: 2006, splitLine: {show: false}, axisLine};
  xAxes.push(Object.assign({}, xBase, {position: 'bottom',
    axisTick: {show: true, length: 4, customValues: X_TICKS, lineStyle: {color: '#000', width: 1.5}},
    axisLabel: {customValues: X_TICKS, margin: 10, fontSize: 15, color: '#000', fontFamily: FONT,
      formatter: v => (v % 10 === 0 && v <= 2000 ? String(v) : '')}}));
  xAxes.push(Object.assign({}, xBase, {position: 'top',
    axisTick: {show: true, length: 4, customValues: X_TICKS, lineStyle: {color: '#000', width: 1.5}},
    axisLabel: {show: false}}));
  const yBase = {gridIndex: i, type: 'value', min: -0.2, max: 0.2, interval: 0.05, splitLine: {show: false}};
  // main left axis: frame line, all ticks, labels at every other tick
  yAxes.push(Object.assign({}, yBase, {position: 'left', axisLine,
    axisTick: {show: true, length: 4, customValues: Y_TICKS, lineStyle: {color: '#000', width: 1.5}},
    axisLabel: Object.assign({customValues: Y_LABELS_A, showMinLabel: true, showMaxLabel: true}, labelStyle),
    name: p.col === 0 ? 'Pano (mm/day)' : '', nameLocation: 'middle', nameGap: 66,
    nameTextStyle: {fontSize: 16, color: '#000', fontFamily: FONT}}));
  // second left axis carrying the in-between labels (so the crowded labels are all kept)
  yAxes.push(Object.assign({}, yBase, {position: 'left', offset: 0, axisLine: {show: false}, axisTick: {show: false},
    axisLabel: Object.assign({customValues: Y_LABELS_B}, labelStyle)}));
  yAxes.push(Object.assign({}, yBase, {position: 'right', axisLine,
    axisTick: {show: true, length: 4, customValues: Y_TICKS, lineStyle: {color: '#000', width: 1.5}},
    axisLabel: {show: false}}));
  const xi = 2 * i, yi = 3 * i;
  const xy = arr => arr.map((v, k) => [YEARS[k], v * U]);
  const common = {type: 'line', xAxisIndex: xi, yAxisIndex: yi, symbol: 'none', silent: true};
  // orange envelope between lo and hi, drawn through the axes' scales
  series.push({type: 'custom', xAxisIndex: xi, yAxisIndex: yi, silent: true, clip: true, z: 1,
    data: [[YEARS[0], p.lo[0] * U]],
    renderItem: (params, api) => {
      const pts = [];
      for (let k = 0; k < YEARS.length; k++) pts.push(api.coord([YEARS[k], p.hi[k] * U]));
      for (let k = YEARS.length - 1; k >= 0; k--) pts.push(api.coord([YEARS[k], p.lo[k] * U]));
      return {type: 'polygon', shape: {points: pts}, style: {fill: ORANGE, opacity: 0.62}};
    }});
  [p.hi, p.lo, p.o1].forEach(arr => series.push(Object.assign({}, common, {data: xy(arr), clip: false,
    lineStyle: {color: ORANGE, width: 1.2}, z: 2})));
  series.push(Object.assign({}, common, {data: xy(p.b1), clip: false, lineStyle: {color: LBLUE, width: 1.2}, z: 3}));
  series.push(Object.assign({}, common, {name: 'Nat', data: xy(p.nat), itemStyle: {color: '#0000FF'},
    lineStyle: {color: '#0000FF', width: 3.5}, z: 4}));
  series.push(Object.assign({}, common, {name: 'All', data: xy(p.all), itemStyle: {color: '#FF0000'},
    lineStyle: {color: '#FF0000', width: 3.5}, z: 5}));
  if (p.obs) series.push(Object.assign({}, common, {name: 'Obs', data: xy(p.obs), clip: false,
    itemStyle: {color: '#000'}, lineStyle: {color: '#000', width: 1.4}, z: 6}));
  series.push({type: 'scatter', xAxisIndex: xi, yAxisIndex: yi, silent: true, symbol: STAR, symbolSize: 7,
    itemStyle: {color: '#00FF00'}, data: p.stars.map(y => [y, STAR_Y]), z: 7});
});

const titles = COL_TITLES.map((t, c) => ({text: t, left: TITLE_X[c], top: 8, padding: 0,
  textStyle: {fontSize: 16, fontWeight: 'bold', color: '#000', fontFamily: FONT}}))
  .concat(REGIONS.map((r, row) => ({text: r, left: 122, top: ROW_TOP[row] + 10, padding: 0,
  textStyle: {fontSize: 16, fontWeight: 'normal', color: '#333', fontFamily: FONT}})));

const chart = echarts.init(document.getElementById('c'), null, {renderer: 'canvas', width: 1142, height: 764});
chart.setOption({
  animation: false,
  backgroundColor: '#fff',
  title: titles,
  legend: {data: [{name: 'Obs', icon: 'rect', itemStyle: {color: '#000'}},
                  {name: 'Nat', icon: 'rect', itemStyle: {color: '#0000FF'}},
                  {name: 'All', icon: 'rect', itemStyle: {color: '#FF0000'}}],
    orient: 'vertical', left: 989, top: 643, padding: [13, 12, 8, 21],
    itemWidth: 40, itemHeight: 3.5, itemGap: 3.5, selectedMode: false, borderColor: '#000', borderWidth: 1.5,
    textStyle: {fontSize: 16, lineHeight: 16, color: '#000', fontFamily: FONT, padding: [0, 0, 0, 12]}},
  grid: grids, xAxis: xAxes, yAxis: yAxes, series
});
</script></body></html>
